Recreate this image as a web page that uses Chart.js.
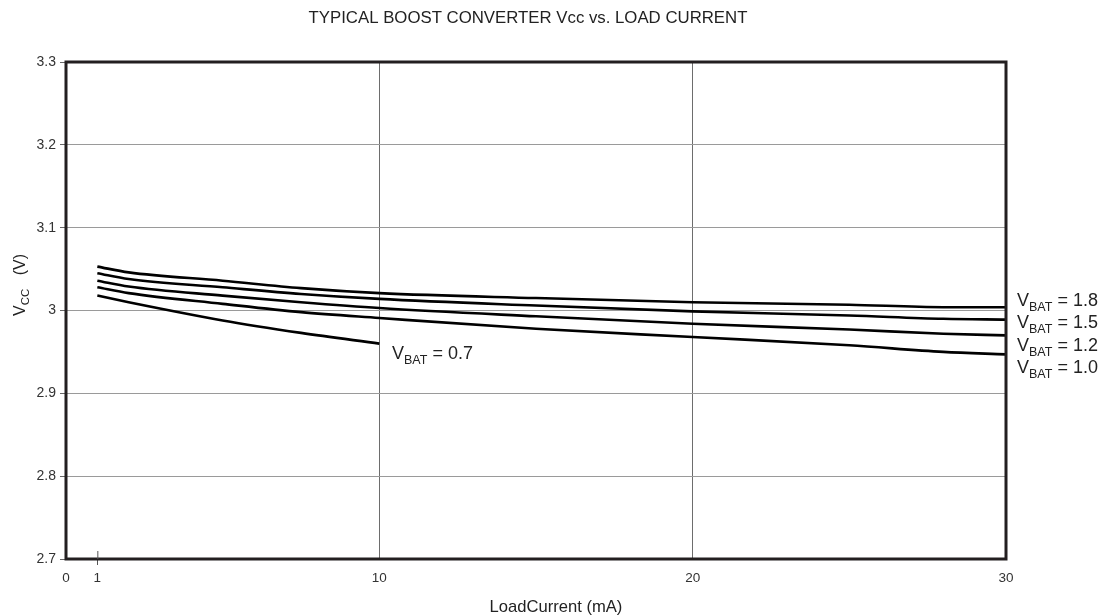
<!DOCTYPE html>
<html>
<head>
<meta charset="utf-8">
<script src="https://cdn.jsdelivr.net/npm/chart.js@4/dist/chart.umd.min.js"></script>
<style>
  html, body { margin: 0; padding: 0; background: #fff; }
  #wrap { width: 1106px; height: 616px; position: relative; }
</style>
</head>
<body>
<div id="wrap"><canvas id="c" width="1106" height="616"></canvas></div>
<script>
// ---- data ----
const titleText = 'TYPICAL BOOST CONVERTER Vcc vs. LOAD CURRENT';
const xAxisTitle = 'LoadCurrent (mA)';
const xTickValues = [0, 1, 10, 20, 30];
const yTickValues = [2.7, 2.8, 2.9, 3.0, 3.1, 3.2, 3.3];

const loadCurrent = [1, 2, 5, 7.5, 10, 15, 20, 25, 28, 30];
const loadCurrent07 = [1, 2, 5, 7.5, 10];

const vcc18 = [3.053, 3.046, 3.036, 3.027, 3.021, 3.015, 3.010, 3.007, 3.004, 3.004];
const vcc15 = [3.045, 3.038, 3.028, 3.020, 3.014, 3.006, 2.999, 2.994, 2.990, 2.989];
const vcc12 = [3.036, 3.029, 3.018, 3.010, 3.003, 2.993, 2.984, 2.977, 2.972, 2.970];
const vcc10 = [3.028, 3.021, 3.008, 2.998, 2.991, 2.978, 2.968, 2.958, 2.950, 2.947];
const vcc07 = [3.018, 3.010, 2.988, 2.973, 2.960];

const seriesNames = ['1.8', '1.5', '1.2', '1.0', '0.7'];

function pts(xs, ys) { return xs.map((x, i) => ({ x: x, y: ys[i] })); }

const FONT = '"Liberation Sans", Arial, sans-serif';

function drawSubLabel(ctx, x, y, main, sub, rest, bigSize, smallSize, subDrop) {
  ctx.save();
  ctx.fillStyle = '#222';
  ctx.textBaseline = 'alphabetic';
  ctx.textAlign = 'left';
  ctx.font = bigSize + 'px ' + FONT;
  ctx.fillText(main, x, y);
  let w = ctx.measureText(main).width;
  ctx.font = smallSize + 'px ' + FONT;
  ctx.fillText(sub, x + w, y + subDrop);
  w += ctx.measureText(sub).width;
  ctx.font = bigSize + 'px ' + FONT;
  ctx.fillText(rest, x + w, y);
  ctx.restore();
}

const decor = {
  id: 'decor',
  afterDraw(chart) {
    const ctx = chart.ctx;
    const a = chart.chartArea;
    const xs = chart.scales.x;
    // frame
    ctx.save();
    ctx.strokeStyle = '#231f20';
    ctx.lineWidth = 3;
    ctx.strokeRect(a.left, a.top, a.right - a.left, a.bottom - a.top);
    // small inside tick at x = 1
    const p1 = xs.getPixelForValue(1);
    ctx.lineWidth = 1;
    ctx.strokeStyle = '#555';
    ctx.beginPath();
    ctx.moveTo(p1 + 0.5, a.bottom - 8);
    ctx.lineTo(p1 + 0.5, a.bottom);
    ctx.stroke();
    ctx.restore();

    // title
    ctx.save();
    ctx.fillStyle = '#222';
    ctx.font = '16.8px ' + FONT;
    ctx.textAlign = 'center';
    ctx.textBaseline = 'alphabetic';
    ctx.fillText(titleText, 528, 23);
    // x axis title
    ctx.font = '16.6px ' + FONT;
    ctx.fillText(xAxisTitle, 556, 612);
    ctx.restore();

    // y axis title (rotated)
    ctx.save();
    ctx.translate(25, 285);
    ctx.rotate(-Math.PI / 2);
    ctx.fillStyle = '#222';
    ctx.textBaseline = 'alphabetic';
    ctx.font = '16px ' + FONT;
    const wV = ctx.measureText('V').width;
    ctx.font = '11.5px ' + FONT;
    const wCC = ctx.measureText('CC').width;
    ctx.font = '16px ' + FONT;
    const wRest = ctx.measureText('   (V)').width;
    const total = wV + wCC + wRest;
    let sx = -total / 2;
    ctx.fillText('V', sx, 0);
    ctx.font = '11.5px ' + FONT;
    ctx.fillText('CC', sx + wV, 4);
    ctx.font = '16px ' + FONT;
    ctx.fillText('   (V)', sx + wV + wCC, 0);
    ctx.restore();

    // series labels
    const rightX = a.right + 11;
    const baselines = [306, 328, 351, 373];
    for (let i = 0; i < 4; i++) {
      drawSubLabel(ctx, rightX, baselines[i], 'V', 'BAT', ' = ' + seriesNames[i], 18, 12.5, 5);
    }
    drawSubLabel(ctx, 392, 359, 'V', 'BAT', ' = ' + seriesNames[4], 18, 12.5, 5);
  }
};

function lineDs(data) {
  return {
    data: data,
    borderColor: '#000',
    borderWidth: 2.6,
    pointRadius: 0,
    fill: false,
    showLine: true,
    tension: 0.3,
    cubicInterpolationMode: 'monotone'
  };
}

new Chart(document.getElementById('c'), {
  type: 'scatter',
  data: {
    datasets: [
      lineDs(pts(loadCurrent, vcc18)),
      lineDs(pts(loadCurrent, vcc15)),
      lineDs(pts(loadCurrent, vcc12)),
      lineDs(pts(loadCurrent, vcc10)),
      lineDs(pts(loadCurrent07, vcc07))
    ]
  },
  options: {
    responsive: false,
    animation: false,
    devicePixelRatio: 1,
    layout: { padding: { left: 0, top: 62, right: 100, bottom: 0 } },
    plugins: { legend: { display: false }, title: { display: false }, tooltip: { enabled: false } },
    scales: {
      x: {
        type: 'linear',
        min: 0, max: 30,
        afterBuildTicks: s => { s.ticks = xTickValues.map(v => ({ value: v })); },
        afterFit: s => { s.height = 57; },
        border: { display: false },
        grid: {
          color: c => (c.tick && (c.tick.value === 10 || c.tick.value === 20)) ? '#6d6d6d' : 'rgba(0,0,0,0)',
          tickColor: c => (c.tick && c.tick.value === 1) ? '#555' : 'rgba(0,0,0,0)',
          lineWidth: 1,
          tickLength: 6
        },
        ticks: {
          autoSkip: false,
          maxRotation: 0,
          padding: 5,
          color: '#333',
          font: { family: FONT, size: 13.5 },
          callback: v => String(v)
        }
      },
      y: {
        type: 'linear',
        min: 2.7, max: 3.3,
        afterBuildTicks: s => { s.ticks = yTickValues.map(v => ({ value: v })); },
        afterFit: s => { s.width = 66; },
        border: { display: false },
        grid: {
          color: c => (c.tick && c.tick.value > 2.75 && c.tick.value < 3.25) ? '#9a9a9a' : 'rgba(0,0,0,0)',
          tickColor: '#666',
          lineWidth: 1,
          tickLength: 6
        },
        ticks: {
          autoSkip: false,
          padding: 4,
          color: '#333',
          font: { family: FONT, size: 14 },
          callback: v => String(Math.round(v * 10) / 10)
        }
      }
    }
  },
  plugins: [decor]
});
</script>
</body>
</html>
